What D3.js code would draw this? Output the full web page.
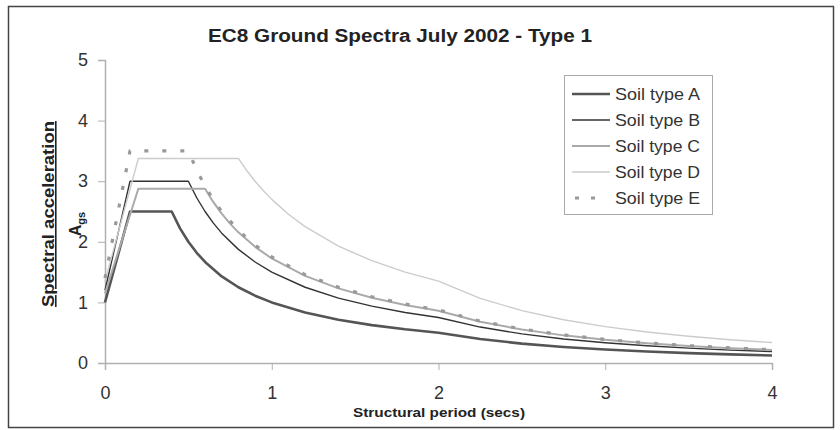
<!DOCTYPE html>
<html>
<head>
<meta charset="utf-8">
<script src="https://cdn.jsdelivr.net/npm/d3@7"></script>
<style>
  html, body { margin: 0; padding: 0; background: #fff; }
  svg { display: block; }
  text { font-family: "Liberation Sans", Arial, sans-serif; }
</style>
</head>
<body>
<svg id="chart" width="840" height="430"></svg>
<script>
// ---- data ----
const seriesNames = ["Soil type A", "Soil type B", "Soil type C", "Soil type D", "Soil type E"];

const periodA = [0, 0.15, 0.4, 0.45, 0.5, 0.55, 0.6, 0.7, 0.8, 0.9, 1.0, 1.2, 1.4, 1.6, 1.8, 2.0, 2.25, 2.5, 2.75, 3.0, 3.25, 3.5, 3.75, 4.0];
const valuesA = [1.0, 2.5, 2.5, 2.222, 2.0, 1.818, 1.667, 1.429, 1.25, 1.111, 1.0, 0.833, 0.714, 0.625, 0.556, 0.5, 0.395, 0.32, 0.264, 0.222, 0.189, 0.163, 0.142, 0.125];

const periodB = [0, 0.15, 0.5, 0.55, 0.6, 0.65, 0.7, 0.8, 0.9, 1.0, 1.2, 1.4, 1.6, 1.8, 2.0, 2.25, 2.5, 2.75, 3.0, 3.25, 3.5, 3.75, 4.0];
const valuesB = [1.2, 3.0, 3.0, 2.727, 2.5, 2.308, 2.143, 1.875, 1.667, 1.5, 1.25, 1.071, 0.938, 0.833, 0.75, 0.593, 0.48, 0.397, 0.333, 0.284, 0.245, 0.213, 0.188];

const periodC = [0, 0.2, 0.6, 0.65, 0.7, 0.75, 0.8, 0.9, 1.0, 1.2, 1.4, 1.6, 1.8, 2.0, 2.25, 2.5, 2.75, 3.0, 3.25, 3.5, 3.75, 4.0];
const valuesC = [1.15, 2.875, 2.875, 2.654, 2.464, 2.3, 2.156, 1.917, 1.725, 1.438, 1.232, 1.078, 0.958, 0.863, 0.682, 0.552, 0.456, 0.383, 0.327, 0.282, 0.245, 0.216];

const periodD = [0, 0.2, 0.8, 0.85, 0.9, 0.95, 1.0, 1.1, 1.2, 1.4, 1.6, 1.8, 2.0, 2.25, 2.5, 2.75, 3.0, 3.25, 3.5, 3.75, 4.0];
const valuesD = [1.35, 3.375, 3.375, 3.176, 3.0, 2.842, 2.7, 2.455, 2.25, 1.929, 1.688, 1.5, 1.35, 1.067, 0.864, 0.714, 0.6, 0.511, 0.441, 0.384, 0.338];

const periodE = [0, 0.15, 0.5, 0.55, 0.6, 0.65, 0.7, 0.8, 0.9, 1.0, 1.2, 1.4, 1.6, 1.8, 2.0, 2.25, 2.5, 2.75, 3.0, 3.25, 3.5, 3.75, 4.0];
const valuesE = [1.4, 3.5, 3.5, 3.182, 2.917, 2.692, 2.5, 2.188, 1.944, 1.75, 1.458, 1.25, 1.094, 0.972, 0.875, 0.691, 0.56, 0.463, 0.389, 0.331, 0.286, 0.249, 0.219];

const xTicks = [0, 1, 2, 3, 4];
const yTicks = [0, 1, 2, 3, 4, 5];

const titleText = "EC8 Ground Spectra July 2002 - Type 1";
const xTitle = "Structural period (secs)";
const yTitle = "Spectral acceleration";

// ---- drawing ----
const svg = d3.select("#chart");

// outer frame
svg.append("rect").attr("x", 8.5).attr("y", 6.5).attr("width", 825).attr("height", 421)
  .attr("fill", "#fff").attr("stroke", "#444").attr("stroke-width", 1.5);

const x = d3.scaleLinear().domain([0, 4]).range([105, 772]);
const y = d3.scaleLinear().domain([0, 5]).range([363, 60]);

const series = [
  { name: seriesNames[0], T: periodA, v: valuesA, color: "#555", width: 2.6, dash: null },
  { name: seriesNames[1], T: periodB, v: valuesB, color: "#333", width: 1.4, dash: null },
  { name: seriesNames[2], T: periodC, v: valuesC, color: "#aaa", width: 2.0, dash: null },
  { name: seriesNames[3], T: periodD, v: valuesD, color: "#ccc", width: 1.4, dash: null },
  { name: seriesNames[4], T: periodE, v: valuesE, color: "#999", width: 3.2, dash: "4,14" }
];

// axes
const axisColor = "#b0b0b0";
const xAxis = d3.axisBottom(x).tickValues(xTicks).tickSize(7).tickPadding(16).tickFormat(d3.format("d"));
const gx = svg.append("g").attr("transform", `translate(0,${y(0)})`).call(xAxis);
gx.select(".domain").attr("stroke", axisColor).attr("stroke-width", 1.5);
gx.selectAll(".tick line").attr("stroke", axisColor);
gx.selectAll(".tick text").attr("fill", "#333").style("font-size", "18px");

const yAxis = d3.axisLeft(y).tickValues(yTicks).tickSize(7).tickPadding(10).tickFormat(d3.format("d"));
const gy = svg.append("g").attr("transform", `translate(${x(0)},0)`).call(yAxis);
gy.select(".domain").attr("stroke", axisColor).attr("stroke-width", 1.5);
gy.selectAll(".tick line").attr("stroke", axisColor);
gy.selectAll(".tick text").attr("fill", "#333").style("font-size", "18px");

// lines
const line = d3.line().x(d => x(d[0])).y(d => y(d[1]));
series.forEach(s => {
  const pts = s.T.map((t, i) => [t, s.v[i]]);
  const p = svg.append("path").datum(pts).attr("d", line)
    .attr("fill", "none").attr("stroke", s.color).attr("stroke-width", s.width)
    .attr("stroke-linejoin", "round");
  if (s.dash) p.attr("stroke-dasharray", s.dash).attr("stroke-linecap", "butt");
});

// title
svg.append("text").attr("x", 400).attr("y", 42).attr("text-anchor", "middle")
  .style("font-size", "18px").style("font-weight", "bold").attr("fill", "#222")
  .attr("textLength", 384).attr("lengthAdjust", "spacingAndGlyphs").text(titleText);

// x title
svg.append("text").attr("x", 439).attr("y", 417).attr("text-anchor", "middle")
  .style("font-size", "13px").style("font-weight", "bold").attr("fill", "#222")
  .attr("textLength", 172).attr("lengthAdjust", "spacingAndGlyphs").text(xTitle);

// y title
svg.append("text").attr("transform", "translate(54,214) rotate(-90)").attr("text-anchor", "middle")
  .style("font-size", "16px").style("font-weight", "bold").attr("fill", "#222")
  .attr("text-decoration", "underline")
  .attr("textLength", 186).attr("lengthAdjust", "spacingAndGlyphs").text(yTitle);
const ya = svg.append("text").attr("transform", "translate(81,224) rotate(-90)").attr("text-anchor", "middle")
  .style("font-size", "16px").style("font-weight", "bold").attr("fill", "#222");
ya.append("tspan").text("A");
ya.append("tspan").attr("dy", 4).style("font-size", "11px").text("gs");

// legend
const lg = svg.append("g");
lg.append("rect").attr("x", 564.5).attr("y", 75.5).attr("width", 148).attr("height", 139)
  .attr("fill", "#fff").attr("stroke", "#aaa").attr("stroke-width", 1);
series.forEach((s, i) => {
  const yy = 94 + i * 26;
  const l = lg.append("line").attr("x1", 572).attr("x2", 610).attr("y1", yy).attr("y2", yy)
    .attr("stroke", s.color).attr("stroke-width", s.width);
  if (s.dash) l.attr("stroke-dasharray", "4,12").attr("x1", 575).attr("x2", 598);
  lg.append("text").attr("x", 615).attr("y", yy + 6).style("font-size", "17px").attr("fill", "#333")
    .attr("textLength", 85).attr("lengthAdjust", "spacingAndGlyphs").text(s.name);
});
</script>
</body>
</html>
